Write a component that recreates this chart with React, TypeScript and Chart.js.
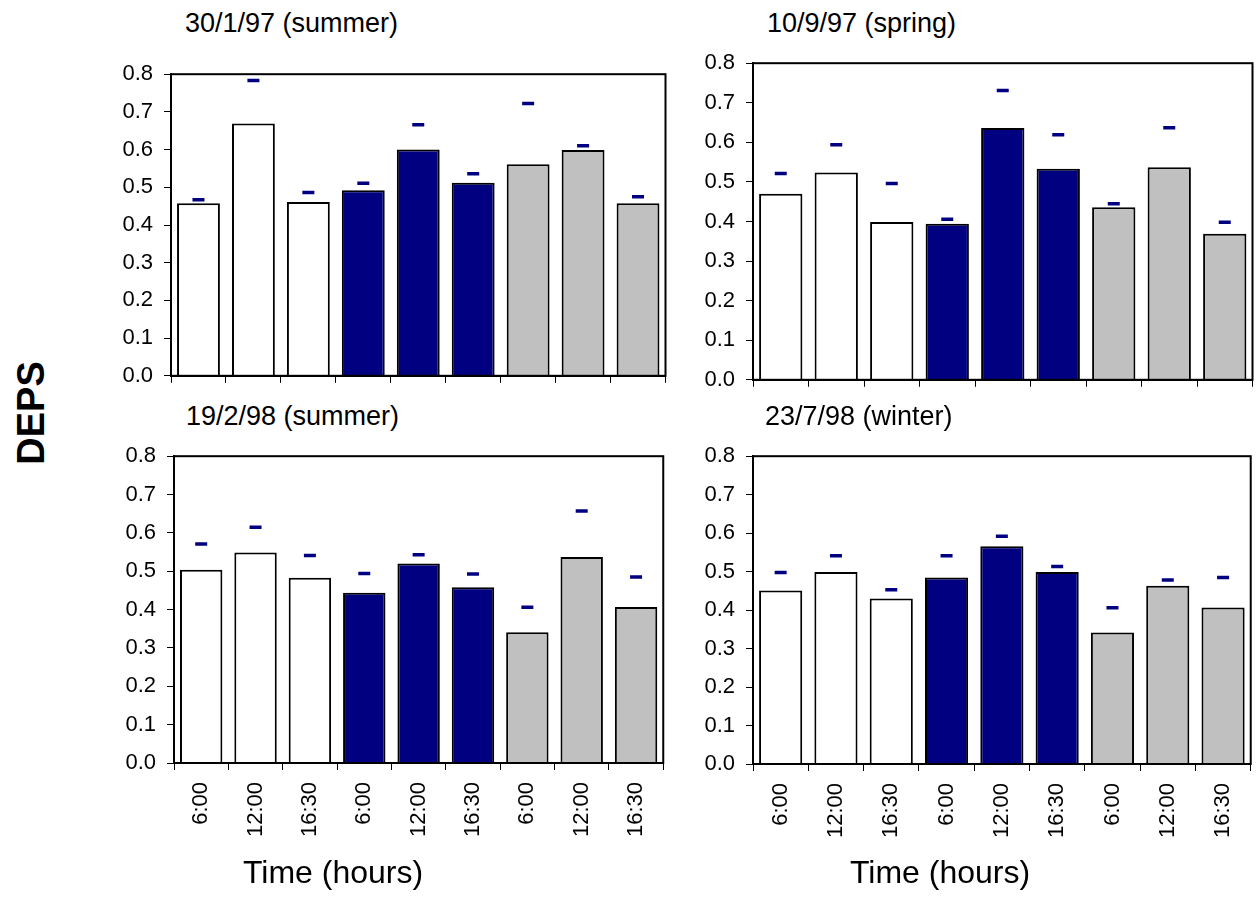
import React, { useEffect, useRef } from "react";
import { Chart, registerables } from "chart.js";

Chart.register(...registerables);

const FONT = "'Liberation Sans', Arial, Helvetica, sans-serif";

// Categories (three groups of sampling times)
const timeLabels = ["6:00", "12:00", "16:30", "6:00", "12:00", "16:30", "6:00", "12:00", "16:30"];
const barFill = ["#FFFFFF", "#FFFFFF", "#FFFFFF", "#000080", "#000080", "#000080", "#C0C0C0", "#C0C0C0", "#C0C0C0"];

const yMin = 0;
const yMax = 0.8;
const yStep = 0.1;

const panelTitles = ["30/1/97 (summer)", "10/9/97 (spring)", "19/2/98 (summer)", "23/7/98 (winter)"];

// DEPS bar values per panel
const deps30Jan97 = [0.458, 0.669, 0.461, 0.492, 0.600, 0.512, 0.561, 0.599, 0.458];
const deps10Sep97 = [0.470, 0.524, 0.399, 0.394, 0.636, 0.533, 0.436, 0.537, 0.369];
const deps19Feb98 = [0.504, 0.549, 0.483, 0.444, 0.520, 0.458, 0.341, 0.537, 0.407];
const deps23Jul98 = [0.451, 0.499, 0.430, 0.485, 0.566, 0.499, 0.342, 0.463, 0.407];

// Dash markers above the bars
const mark30Jan97 = [0.467, 0.783, 0.486, 0.511, 0.666, 0.536, 0.722, 0.610, 0.475];
const mark10Sep97 = [0.521, 0.594, 0.496, 0.406, 0.731, 0.619, 0.445, 0.637, 0.398];
const mark19Feb98 = [0.571, 0.615, 0.541, 0.494, 0.543, 0.493, 0.406, 0.657, 0.485];
const mark23Jul98 = [0.498, 0.541, 0.453, 0.541, 0.592, 0.513, 0.406, 0.478, 0.485];

const yAxisTitle = "DEPS";
const xAxisTitle = "Time (hours)";

type Area = { l: number; t: number; r: number; b: number };

const YW = 90;
const PT = 15;
const PR = 8;

const boxPlugin = {
  id: "boxPlugin",
  afterDraw(chart: any) {
    const { ctx, chartArea } = chart;
    ctx.save();
    ctx.strokeStyle = "#000000";
    ctx.lineWidth = 2;
    ctx.strokeRect(chartArea.left, chartArea.top, chartArea.right - chartArea.left, chartArea.bottom - chartArea.top);
    ctx.restore();
  },
};

function Panel(props: { bars: number[]; marks: number[]; showLabels: boolean; area: Area }) {
  const { bars, marks, showLabels, area } = props;
  const ref = useRef<HTMLCanvasElement | null>(null);
  const XH = showLabels ? 95 : 20;
  const w = area.r - area.l + YW + PR;
  const h = area.b - area.t + PT + XH;

  useEffect(() => {
    const chart = new Chart(ref.current as HTMLCanvasElement, {
      type: "bar",
      data: {
        labels: timeLabels,
        datasets: [
          {
            type: "line",
            data: marks,
            showLine: false,
            pointStyle: "line",
            pointRadius: 6,
            pointHoverRadius: 6,
            pointBorderWidth: 3.5,
            pointHoverBorderWidth: 3.5,
            borderColor: "#000080",
            backgroundColor: "#000080",
            order: 0,
          } as any,
          {
            type: "bar",
            data: bars,
            backgroundColor: barFill,
            borderColor: "#000000",
            borderWidth: 2,
            categoryPercentage: 1,
            barPercentage: 0.78,
            order: 1,
          } as any,
        ],
      },
      options: {
        responsive: false,
        animation: false,
        devicePixelRatio: 1,
        events: [],
        layout: { padding: { left: 0, top: PT, right: PR, bottom: 0 } },
        plugins: { legend: { display: false }, tooltip: { enabled: false }, title: { display: false } },
        scales: {
          x: {
            offset: true,
            grid: { offset: true, drawOnChartArea: false, drawTicks: true, tickLength: 7, color: "#000000", lineWidth: 1 },
            border: { display: true, color: "#000000", width: 2 },
            ticks: {
              display: showLabels,
              autoSkip: false,
              maxRotation: 90,
              minRotation: 90,
              padding: 12,
              color: "#000000",
              font: { size: 22, family: FONT },
            },
            afterFit: (s: any) => {
              s.height = XH;
            },
          },
          y: {
            min: yMin,
            max: yMax,
            ticks: {
              stepSize: yStep,
              callback: (v: any) => Number(v).toFixed(1),
              color: "#000000",
              padding: 11,
              font: { size: 22, family: FONT },
            },
            grid: { drawOnChartArea: false, drawTicks: true, tickLength: 7, color: "#000000", lineWidth: 1 },
            border: { display: true, color: "#000000", width: 2 },
            afterFit: (s: any) => {
              s.width = YW;
            },
          },
        },
      } as any,
      plugins: [boxPlugin],
    });
    return () => chart.destroy();
  }, []);

  return (
    <canvas
      ref={ref}
      width={w}
      height={h}
      style={{ position: "absolute", left: area.l - YW, top: area.t - PT, width: w, height: h }}
    />
  );
}

const textBase: React.CSSProperties = {
  position: "absolute",
  fontFamily: FONT,
  color: "#000000",
  lineHeight: 1,
  whiteSpace: "nowrap",
};

export default function App() {
  return (
    <div style={{ position: "absolute", left: 0, top: 0, width: 1258, height: 897, background: "#ffffff", overflow: "hidden" }}>
      <Panel bars={deps30Jan97} marks={mark30Jan97} showLabels={false} area={{ l: 171, t: 65, r: 667, b: 380 }} />
      <Panel bars={deps10Sep97} marks={mark10Sep97} showLabels={false} area={{ l: 753, t: 54, r: 1254, b: 384 }} />
      <Panel bars={deps19Feb98} marks={mark19Feb98} showLabels={true} area={{ l: 174, t: 447, r: 667, b: 763 }} />
      <Panel bars={deps23Jul98} marks={mark23Jul98} showLabels={true} area={{ l: 753, t: 447, r: 1254, b: 764 }} />

      <div style={{ ...textBase, left: 185, top: 10, fontSize: 27 }}>{panelTitles[0]}</div>
      <div style={{ ...textBase, left: 767, top: 10, fontSize: 27 }}>{panelTitles[1]}</div>
      <div style={{ ...textBase, left: 186, top: 403, fontSize: 27 }}>{panelTitles[2]}</div>
      <div style={{ ...textBase, left: 765, top: 403, fontSize: 27 }}>{panelTitles[3]}</div>

      <div style={{ ...textBase, left: 333 - 200, width: 400, textAlign: "center", top: 856, fontSize: 32 }}>{xAxisTitle}</div>
      <div style={{ ...textBase, left: 940 - 200, width: 400, textAlign: "center", top: 856, fontSize: 32 }}>{xAxisTitle}</div>

      <div
        style={{
          ...textBase,
          left: 31 - 100,
          top: 413 - 19,
          width: 200,
          height: 38,
          textAlign: "center",
          fontSize: 38,
          fontWeight: "bold",
          transform: "rotate(-90deg)",
          transformOrigin: "50% 50%",
        }}
      >
        {yAxisTitle}
      </div>
    </div>
  );
}
